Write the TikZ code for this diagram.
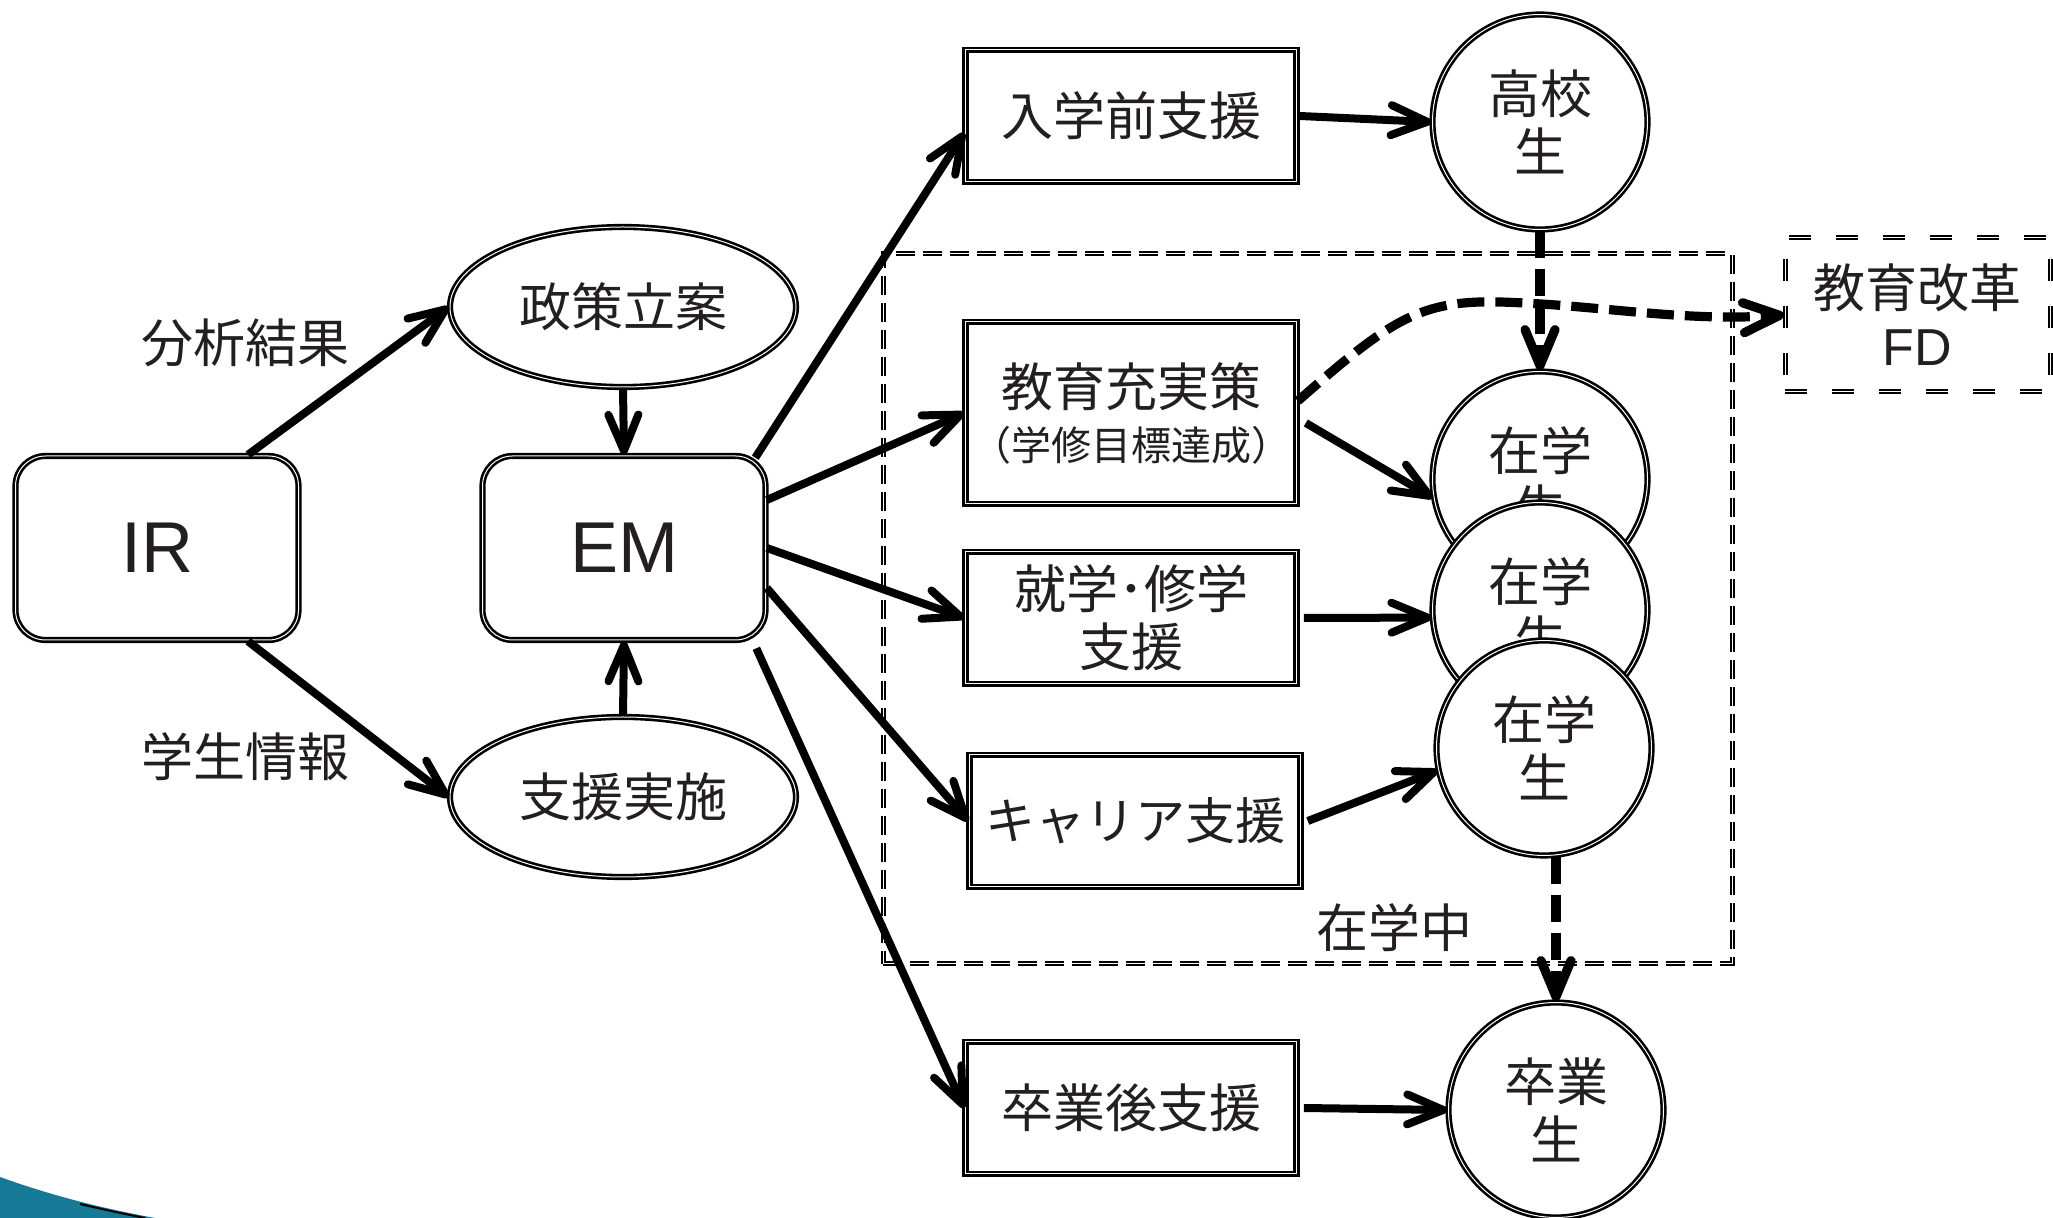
\documentclass[tikz,border=0pt]{standalone}
\usepackage{fontspec}
\setmainfont{Noto Sans CJK JP}
\newfontfamily\latfont{Liberation Sans}
\usetikzlibrary{arrows.meta,shapes.geometric}
\definecolor{txt}{RGB}{35,31,32}
\definecolor{tealone}{RGB}{22,122,150}
\begin{document}
\begin{tikzpicture}[x=0.5pt,y=-0.5pt,
  every node/.style={text=txt, font=\fontsize{26pt}{29pt}\selectfont, align=center, inner sep=0pt},
  dbl/.style={draw=black, double=white, double distance=0.5pt, line width=1.3pt, fill=white},
  box/.style={dbl, rectangle, minimum width=165.5pt, minimum height=66pt},
  rbox/.style={dbl, rectangle, rounded corners=15pt, minimum width=141.5pt, minimum height=92pt, font=\latfont\fontsize{36pt}{40pt}\selectfont},
  ell/.style={dbl, ellipse, minimum width=173pt, minimum height=80pt},
  circ/.style={dbl, circle, minimum size=107.5pt},
  arr/.style={line width=4pt, -{Straight Barb[round,length=18pt,width=15pt]}},
  darr/.style={arr, line width=4.6pt, dash pattern=on 13.5pt off 5.5pt},
  zonebox/.style={draw=black, double=white, double distance=0.5pt, line width=1pt, dash pattern=on 9.5pt off 4pt},
]
\useasboundingbox (0,0) rectangle (2053,1218);
\fill[white] (0,0) rectangle (2053,1218);

% swoosh bottom-left
\fill[tealone] (0,1177) .. controls (50,1195) and (100,1208) .. (155,1218) -- (0,1218) -- cycle;
\draw[line width=1pt] (80,1204) .. controls (110,1211) and (130,1215) .. (145,1218);

% zones
\node[zonebox, minimum width=424.5pt, minimum height=355pt] (zone) at (1307.5,609) {};
\node (zaichu) at (1394,928) {在学中};
\node[zonebox, dash pattern=on 11pt off 12.5pt, minimum width=132.5pt, minimum height=77pt] (fd) at (1917.5,315) {教育改革\\{\latfont FD}};

% left part
\node[rbox] (ir) at (157,548) {IR};
\node[rbox] (em) at (624,548) {EM};
\node[ell] (seisaku) at (623,307) {政策立案};
\node[ell] (shien) at (623,797) {支援実施};
\node (bunseki) at (245,343) {分析結果};
\node (gakusei) at (245,757) {学生情報};

% boxes
\node[box] (nyu) at (1131,116) {入学前支援};
\node[box, minimum height=91pt] (kyo) at (1131,413) {教育充実策\\[-2pt]{\fontsize{20pt}{24pt}\selectfont （学修目標達成）}};
\node[box] (shu) at (1131,618) {就学･修学\\支援};
\node[box, font=\fontsize{25pt}{29pt}\selectfont] (car) at (1135,821) {キャリア支援};
\node[box] (sotsu) at (1131,1108) {卒業後支援};

% circles
\node[circ] (koko) at (1540,122) {高校\\生};
\node[circ] (z1) at (1540,479) {在学\\生};
\node[circ] (z2) at (1540,610) {在学\\生};
\node[circ] (z3) at (1544,748) {在学\\生};
\node[circ] (sg) at (1556,1110) {卒業\\生};

% arrows
\draw[arr] ([xshift=45.5pt]ir.north) -- (seisaku.west);
\draw[arr] ([xshift=45.5pt]ir.south) -- (shien.west);
\draw[arr] (seisaku.south) -- (em.north);
\draw[arr] (shien.north) -- (em.south);
\draw[arr] ([shift={(-5.75pt,-1.5pt)}]em.north east) -- ([yshift=-8.5pt]nyu.west);
\draw[arr] ([yshift=24pt]em.east) -- (kyo.west);
\draw[arr] (em.east) -- (shu.west);
\draw[arr] ([yshift=-20pt]em.east) -- (car.west);
\draw[arr] ([shift={(-5.25pt,-3.5pt)}]em.south east) -- (sotsu.west);
\draw[arr] ([xshift=1pt]nyu.east) -- (koko.west);
\draw[arr] ([shift={(4pt,-5pt)}]kyo.east) -- (z1.190);
\draw[arr] ([xshift=3pt]shu.east) -- (z2.184);
\draw[arr] ([xshift=3pt]car.east) -- (z3.192);
\draw[arr] ([xshift=3pt]sotsu.east) -- (sg.west);
\draw[darr] (koko.south) -- (z1.north);
\draw[darr] (sg.north |- z3.south) -- (sg.north);
\draw[darr] ([yshift=6pt]kyo.east) .. controls (1390,320) and (1420,300) .. (1500,302) .. controls (1600,305) and (1680,322) .. (fd.west);
\end{tikzpicture}
\end{document}
